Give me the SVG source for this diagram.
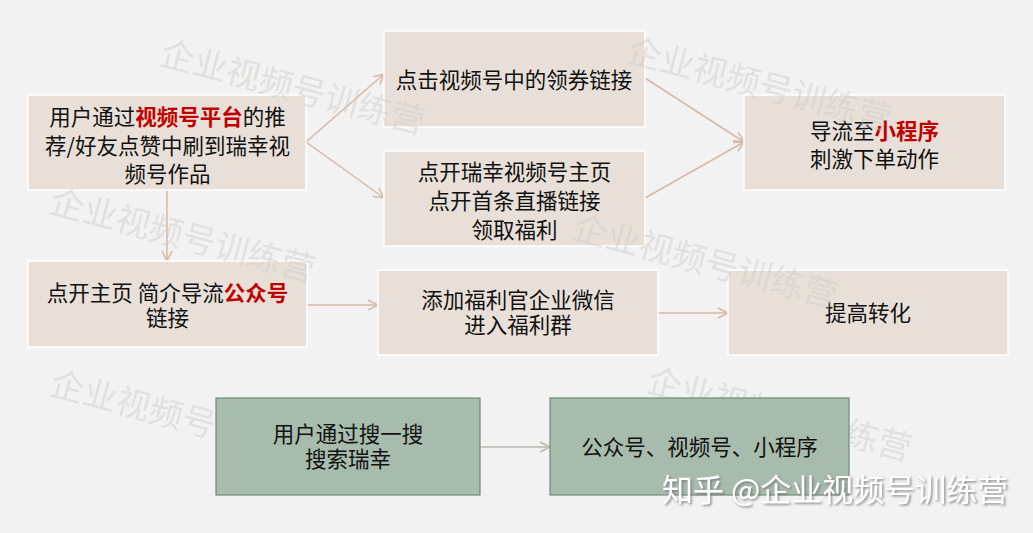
<svg xmlns="http://www.w3.org/2000/svg" width="1033" height="533" viewBox="0 0 1033 533">
<defs>
<style>
.bg{fill:#f2f2f2}
.box{fill:#e8e0d8;stroke:#ffffff;stroke-width:1.5}
.gbox{fill:#a7bcac;stroke:#718b78;stroke-width:1.2}
.t{font-family:"Noto Sans CJK SC","Microsoft YaHei",sans-serif;font-size:21.5px;fill:#111;text-anchor:middle}
.r{fill:#c00000;font-weight:bold}
.wm{font-family:"Noto Sans CJK SC",sans-serif;font-size:34px;fill:#c8c8c8;fill-opacity:0.42}
.c{fill:none;stroke:#d6b8a6;stroke-width:1.5}
.cg{fill:none;stroke:#b7b9b1;stroke-width:1.5}
.zh{font-family:"Noto Sans CJK SC",sans-serif;font-size:31px;fill:#ffffff}
</style>
<marker id="ah" viewBox="0 0 12 12" refX="11" refY="6" markerWidth="12" markerHeight="12" markerUnits="userSpaceOnUse" orient="auto">
<path d="M1,1 L11,6 L1,11" fill="none" stroke="#d6b8a6" stroke-width="1.5"/>
</marker>
<marker id="ahg" viewBox="0 0 12 12" refX="11" refY="6" markerWidth="12" markerHeight="12" markerUnits="userSpaceOnUse" orient="auto">
<path d="M1,1 L11,6 L1,11" fill="none" stroke="#b7b9b1" stroke-width="1.5"/>
</marker>
<filter id="sh" x="-10%" y="-30%" width="120%" height="160%">
<feDropShadow dx="1.5" dy="1.5" stdDeviation="1" flood-color="#6f6f6f" flood-opacity="0.8"/>
</filter>
</defs>
<rect class="bg" x="0" y="0" width="1033" height="533"/>

<g id="connectors">
<line class="c" x1="306" y1="142" x2="384" y2="74" marker-end="url(#ah)"/>
<line class="c" x1="306" y1="142" x2="384" y2="198" marker-end="url(#ah)"/>
<line class="c" x1="645" y1="78" x2="744" y2="142" marker-end="url(#ah)"/>
<line class="c" x1="645" y1="198" x2="744" y2="142" marker-end="url(#ah)"/>
<line class="c" x1="167" y1="190" x2="167" y2="261" marker-end="url(#ah)"/>
<line class="c" x1="307" y1="305" x2="378" y2="305" marker-end="url(#ah)"/>
<line class="c" x1="658" y1="313" x2="728" y2="313" marker-end="url(#ah)"/>
<line class="cg" x1="480" y1="447" x2="550" y2="447" marker-end="url(#ahg)"/>
</g>

<g id="n1"><rect class="box" x="28" y="95" width="278" height="95"/>
<text class="t" x="167.5" y="125">用户通过<tspan class="r">视频号平台</tspan>的推</text>
<text class="t" x="167.5" y="154">荐/好友点赞中刷到瑞幸视</text>
<text class="t" x="167.5" y="182">频号作品</text></g>

<g id="n2"><rect class="box" x="384" y="31" width="261" height="96"/>
<text class="t" x="514" y="88">点击视频号中的领券链接</text></g>

<g id="n3"><rect class="box" x="384" y="151" width="261" height="95"/>
<text class="t" x="514.5" y="180">点开瑞幸视频号主页</text>
<text class="t" x="514.5" y="209">点开首条直播链接</text>
<text class="t" x="514.5" y="238">领取福利</text></g>

<g id="n4"><rect class="box" x="744" y="95" width="261" height="95"/>
<text class="t" x="874.5" y="139">导流至<tspan class="r">小程序</tspan></text>
<text class="t" x="874.5" y="167">刺激下单动作</text></g>

<g id="n5"><rect class="box" x="28" y="261" width="279" height="86"/>
<text class="t" x="167.5" y="301">点开主页 简介导流<tspan class="r">公众号</tspan></text>
<text class="t" x="167.5" y="326">链接</text></g>

<g id="n6"><rect class="box" x="378" y="270" width="280" height="85"/>
<text class="t" x="518" y="308">添加福利官企业微信</text>
<text class="t" x="518" y="333">进入福利群</text></g>

<g id="n7"><rect class="box" x="728" y="270" width="280" height="85"/>
<text class="t" x="868" y="321">提高转化</text></g>

<g id="watermarks">
<text class="wm" transform="translate(158,64) rotate(15)">企业视频号训练营</text>
<text class="wm" transform="translate(625,61) rotate(15)">企业视频号训练营</text>
<text class="wm" transform="translate(48,212) rotate(15)">企业视频号训练营</text>
<text class="wm" transform="translate(571,238) rotate(15)">企业视频号训练营</text>
<text class="wm" transform="translate(48,394) rotate(15)">企业视频号训练营</text>
<text class="wm" transform="translate(645,391) rotate(15)">企业视频号训练营</text>
</g>

<g id="n8"><rect class="gbox" x="216" y="398" width="264" height="97"/>
<text class="t" x="348" y="442">用户通过搜一搜</text>
<text class="t" x="348" y="467">搜索瑞幸</text></g>

<g id="n9"><rect class="gbox" x="550" y="398" width="299" height="97"/>
<text class="t" x="699.5" y="455">公众号、视频号、小程序</text></g>

<text class="zh" x="662" y="501" filter="url(#sh)">知乎 @企业视频号训练营</text>
</svg>
